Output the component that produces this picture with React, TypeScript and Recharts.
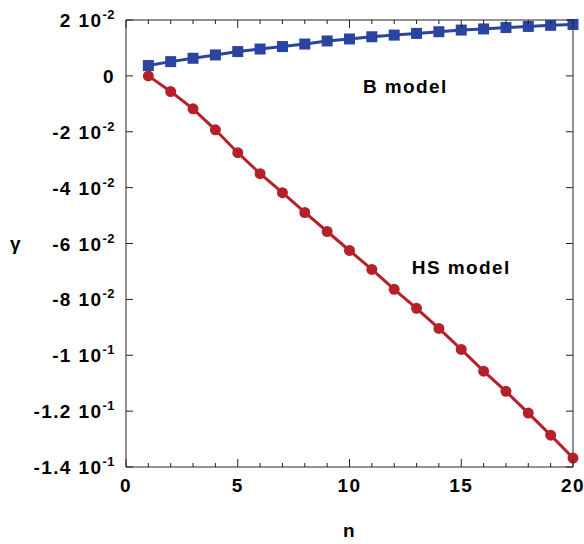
import { Line, LineChart, ReferenceDot, XAxis, YAxis } from 'recharts';

const nValues = [1, 2, 3, 4, 5, 6, 7, 8, 9, 10, 11, 12, 13, 14, 15, 16, 17, 18, 19, 20];
const hsValues = [
  0, -0.0056, -0.0118, -0.0193, -0.0275, -0.035, -0.0418, -0.0489, -0.0557, -0.0625,
  -0.0693, -0.0764, -0.0832, -0.0904, -0.0979, -0.1057, -0.1129, -0.1207, -0.1286, -0.1368,
];
const bValues = [
  0.0037, 0.0051, 0.0063, 0.0075, 0.0087, 0.0096, 0.0105, 0.0114, 0.0125, 0.0132,
  0.014, 0.0146, 0.0152, 0.0158, 0.0164, 0.0168, 0.0173, 0.0177, 0.0181, 0.0184,
];

const xTicks = [0, 1, 2, 3, 4, 5, 6, 7, 8, 9, 10, 11, 12, 13, 14, 15, 16, 17, 18, 19, 20];
const xMajorTicks = [0, 5, 10, 15, 20];
const yTicks = [-0.14, -0.12, -0.1, -0.08, -0.06, -0.04, -0.02, 0, 0.02];
// [mantissa, exponent]
const yTickLabels: Array<[string, string]> = [
  ['-1.4 10', '-1'],
  ['-1.2 10', '-1'],
  ['-1 10', '-1'],
  ['-8 10', '-2'],
  ['-6 10', '-2'],
  ['-4 10', '-2'],
  ['-2 10', '-2'],
  ['0', ''],
  ['2 10', '-2'],
];

const data = nValues.map((n, i) => ({ n, hs: hsValues[i], b: bValues[i] }));

const AXIS = '#222';
const RED = '#b5212b';
const BLUE = '#2a44a0';
const textStyle = { fontSize: 19, fontWeight: 'bold', fill: '#000', letterSpacing: 1.4 };

function BottomTick({ x, y, payload }: any) {
  const major = xMajorTicks.includes(payload.value);
  return (
    <g>
      <line x1={x} x2={x} y1={y} y2={y - (major ? 8 : 4)} stroke={AXIS} />
      {major && (
        <text x={x} y={y + 25} textAnchor="middle" style={textStyle}>
          {payload.value}
        </text>
      )}
    </g>
  );
}

function TopTick({ x, y, payload }: any) {
  const major = xMajorTicks.includes(payload.value);
  return <line x1={x} x2={x} y1={y} y2={y + (major ? 8 : 4)} stroke={AXIS} />;
}

function LeftTick({ x, y, payload }: any) {
  const idx = yTicks.findIndex((t) => Math.abs(t - payload.value) < 1e-9);
  const [mant, exp] = yTickLabels[idx] ?? [String(payload.value), ''];
  return (
    <g>
      <line x1={x} x2={x + 7} y1={y} y2={y} stroke={AXIS} />
      <text x={x - 11} y={y} dy={7} textAnchor="end" style={textStyle}>
        {mant}
        {exp && (
          <tspan fontSize={13} dy={-8} style={{ letterSpacing: 0.5 }}>
            {exp}
          </tspan>
        )}
      </text>
    </g>
  );
}

function RightTick({ x, y }: any) {
  return <line x1={x} x2={x - 7} y1={y} y2={y} stroke={AXIS} />;
}

function SquareDot({ cx, cy, index }: any) {
  return <rect key={`sq-${index}`} x={cx - 5.5} y={cy - 5.5} width={11} height={11} fill={BLUE} />;
}

export default function App() {
  return (
    <div
      style={{
        position: 'absolute',
        left: 0,
        top: 0,
        width: 584,
        height: 544,
        background: '#fff',
        fontFamily: '"Liberation Sans", Arial, sans-serif',
      }}
    >
      <LineChart width={584} height={544} data={data} margin={{ top: 0, right: 0, left: 0, bottom: 0 }}>
        <XAxis
          dataKey="n"
          type="number"
          domain={[0, 20]}
          ticks={xTicks}
          interval={0}
          height={77}
          tickSize={0}
          tickMargin={0}
          tickLine={false}
          axisLine={{ stroke: AXIS }}
          tick={<BottomTick />}
          label={{ value: 'n', position: 'insideBottom', offset: 7, style: textStyle }}
        />
        <XAxis
          xAxisId="top"
          orientation="top"
          dataKey="n"
          type="number"
          domain={[0, 20]}
          ticks={xTicks}
          interval={0}
          height={20}
          tickSize={0}
          tickMargin={0}
          tickLine={false}
          axisLine={{ stroke: AXIS }}
          tick={<TopTick />}
        />
        <YAxis
          type="number"
          domain={[-0.14, 0.02]}
          ticks={yTicks}
          interval={0}
          width={126}
          tickSize={0}
          tickMargin={0}
          tickLine={false}
          axisLine={{ stroke: AXIS }}
          tick={<LeftTick />}
          label={{ value: 'γ', position: 'insideLeft', offset: 10, style: textStyle }}
        />
        <YAxis
          yAxisId="right"
          orientation="right"
          type="number"
          domain={[-0.14, 0.02]}
          ticks={yTicks}
          interval={0}
          width={11}
          tickSize={0}
          tickMargin={0}
          tickLine={false}
          axisLine={{ stroke: AXIS }}
          tick={<RightTick />}
        />
        <Line
          dataKey="hs"
          stroke={RED}
          strokeWidth={3}
          dot={{ r: 5.5, fill: RED, stroke: RED, strokeWidth: 0 }}
          isAnimationActive={false}
        />
        <Line
          dataKey="b"
          xAxisId="top"
          yAxisId="right"
          stroke={BLUE}
          strokeWidth={3}
          dot={SquareDot}
          isAnimationActive={false}
        />
        <ReferenceDot
          x={12.5}
          y={-0.0036}
          r={0}
          fill="none"
          stroke="none"
          ifOverflow="visible"
          label={{ value: 'B model', position: 'center', style: textStyle }}
        />
        <ReferenceDot
          x={15}
          y={-0.0686}
          r={0}
          fill="none"
          stroke="none"
          ifOverflow="visible"
          label={{ value: 'HS model', position: 'center', style: textStyle }}
        />
      </LineChart>
    </div>
  );
}
